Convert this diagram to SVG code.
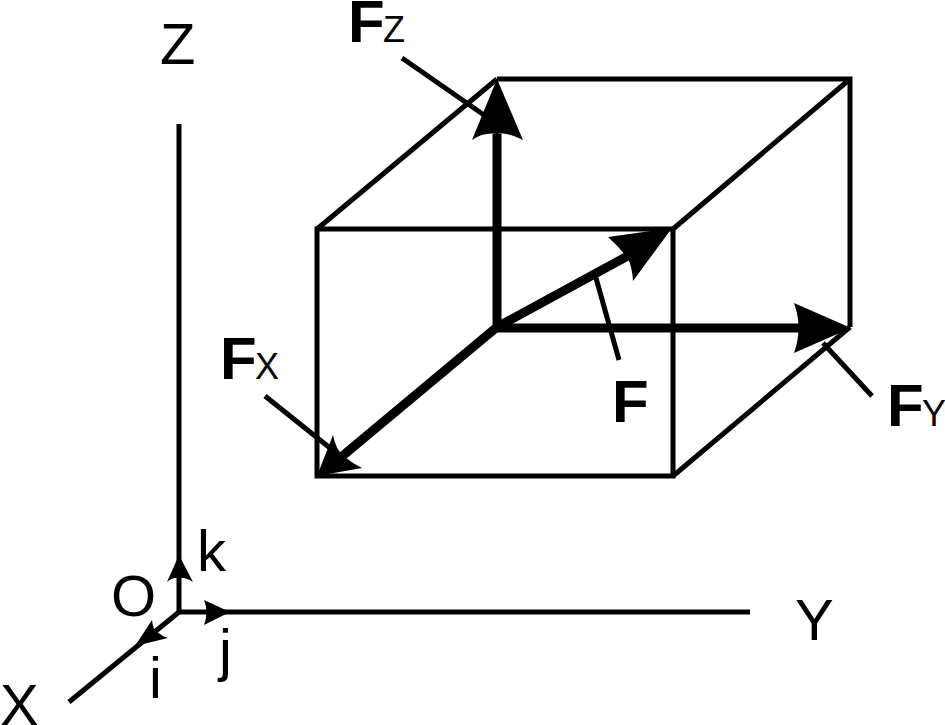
<svg xmlns="http://www.w3.org/2000/svg" width="945" height="725" viewBox="0 0 945 725">
<style>
text{font-family:"Liberation Sans",Arial,sans-serif;fill:#000}
.ax{font-size:58px}
.u{font-size:58px}
.f{font-size:60px;font-weight:bold}
.s{font-size:36px}
.l{fill:none;stroke:#000;stroke-width:5}
.t{fill:none;stroke:#000;stroke-width:9}
.h{fill:#000;stroke:none}
</style>
<rect width="945" height="725" fill="#fff"/>
<g id="connectors">
<g id="box">
<path class="l" d="M317 229H673V476H317Z"/>
<path class="l" d="M497 79H850V327"/>
<path class="l" d="M317 229L497 79M673 229L850 79M673 476L850 327"/>
</g>
<g id="axes">
<path class="l" d="M179 124V612H750"/>
<path class="l" d="M179 612L69 702"/>
</g>
<g id="leaders">
<path class="l" d="M402 58L484 115M265 396L330 448M596 278L619 360M823 343L872 396"/>
</g>
<g id="vectors">
<path class="t" d="M497 327V134"/>
<path class="t" d="M497 328H805"/>
<path class="t" d="M497 327L340 458"/>
<path class="t" d="M497 327L635 252"/>
<path class="h" d="M497 79L523 140Q508 132 497 134Q484 132 472 140Z"/>
<path class="h" d="M851 328L794 353Q803 328 794 303Z"/>
<path class="h" d="M317 476L333 435Q336 450 343 455Q350 462 362 468Z"/>
<path class="h" d="M672 228L633 281Q632 265 627 257Q618 246 608 237Z"/>
<path class="h" d="M179 555L193 582Q185 577 179 578Q173 577 167 582Z"/>
<path class="h" d="M230 612L204 625Q209 612 204 600Z"/>
<path class="h" d="M135 646L152 620Q153 630 157 632Q162 636 168 638Z"/>
</g>
</g>
<g id="label-z"><text class="ax" x="160" y="64">Z</text></g>
<g id="label-y"><text class="ax" x="795" y="640">Y</text></g>
<g id="label-x"><text class="ax" x="0" y="725">X</text></g>
<g id="label-o"><text class="ax" x="111" y="616">O</text></g>
<g id="label-k"><text class="u" x="197" y="571">k</text></g>
<g id="label-i"><text class="u" x="149" y="698">i</text></g>
<g id="label-j"><text class="u" x="219" y="670">j</text></g>
<g id="label-fz"><text class="f" x="348" y="42">F</text><text class="s" x="383" y="42">Z</text></g>
<g id="label-fx"><text class="f" x="220" y="379">F</text><text class="s" x="255" y="379">X</text></g>
<g id="label-f"><text class="f" x="612" y="422">F</text></g>
<g id="label-fy"><text class="f" x="887" y="426">F</text><text class="s" x="922" y="426">Y</text></g>
</svg>
